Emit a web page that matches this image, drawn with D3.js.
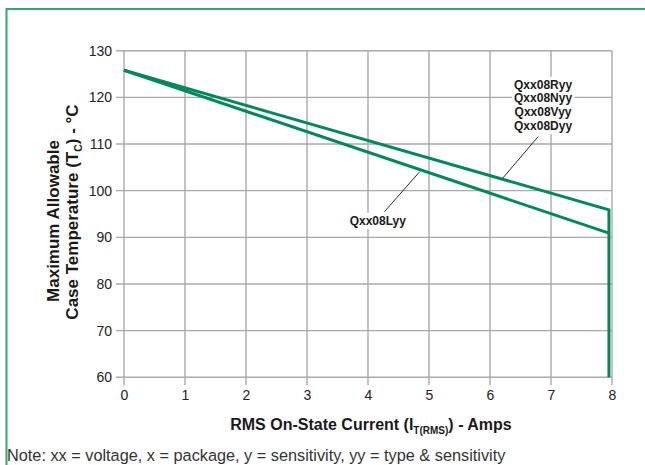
<!DOCTYPE html>
<html><head><meta charset="utf-8">
<script src="https://cdn.jsdelivr.net/npm/d3@7"></script>
<style>
html,body{margin:0;padding:0;background:#fff;}
svg{display:block;font-family:"Liberation Sans",Arial,Helvetica,sans-serif;}
</style></head>
<body><svg id="c" width="645" height="465"></svg>
<script>
// ---- data ----
const xTicks = [0,1,2,3,4,5,6,7,8];
const yTicks = [60,70,80,90,100,110,120,130];
const upperCurrent = [0, 7.95, 7.95];
const upperTemp = [125.8, 95.9, 60];
const lowerCurrent = [0, 7.95];
const lowerTemp = [125.8, 90.9];
const upperLabels = ["Qxx08Ryy","Qxx08Nyy","Qxx08Vyy","Qxx08Dyy"];
const lowerLabels = ["Qxx08Lyy"];
const upperLeader = [[6.79,111.6],[6.21,102.7]];
const lowerLeader = [[4.85,104.1],[4.27,95.5]];
const upperLabelPos = [6.87,122.8];
const lowerLabelPos = [4.16,93.6];
const noteText = "Note: xx = voltage, x = package, y = sensitivity, yy = type & sensitivity";

const svg = d3.select("#c");
const x = d3.scaleLinear().domain([0,8]).range([124,612]);
const y = d3.scaleLinear().domain([60,130]).range([377.3,50.7]);
const grid = "#a9a9a9", green = "#00875a", border = "#34a672";
const narrow = "'Liberation Sans Narrow','Arial Narrow','Liberation Sans',Arial,sans-serif";

// frame border (top & left)
svg.append("path").attr("d","M6.5,465 L6.5,9 L645,9").attr("fill","none")
  .attr("stroke",border).attr("stroke-width",2);

// grid
const g = svg.append("g");
g.selectAll(".vg").data(xTicks).join("line")
  .attr("x1",d=>x(d)).attr("x2",d=>x(d)).attr("y1",y(130)).attr("y2",y(60)+8)
  .attr("stroke",grid).attr("stroke-width",1.4);
g.selectAll(".hg").data(yTicks).join("line")
  .attr("x1",x(0)-8).attr("x2",x(8)).attr("y1",d=>y(d)).attr("y2",d=>y(d))
  .attr("stroke",grid).attr("stroke-width",1.4);

// axes labels via d3 axes (lines hidden)
const xa = svg.append("g").attr("transform",`translate(0,${y(60)})`)
  .call(d3.axisBottom(x).tickValues(xTicks).tickSize(0).tickPadding(13));
const ya = svg.append("g").attr("transform",`translate(${x(0)},0)`)
  .call(d3.axisLeft(y).tickValues(yTicks).tickSize(0).tickPadding(12));
[xa,ya].forEach(a=>{a.select(".domain").remove();
  a.selectAll("text").attr("font-size",14).attr("fill","#222")
   .attr("font-family",narrow);});

// leaders
const lineGen = d3.line().x(d=>x(d[0])).y(d=>y(d[1]));
[upperLeader,lowerLeader].forEach(l=>svg.append("path").attr("d",lineGen(l))
  .attr("fill","none").attr("stroke","#111").attr("stroke-width",0.9));

// curves
const upperPts = upperCurrent.map((c,i)=>[c,upperTemp[i]]);
const lowerPts = lowerCurrent.map((c,i)=>[c,lowerTemp[i]]);
[upperPts,lowerPts].forEach(p=>svg.append("path").attr("d",lineGen(p))
  .attr("fill","none").attr("stroke",green).attr("stroke-width",3)
  .attr("stroke-linejoin","miter"));

// curve labels with white background
function label(lines,pos){
  const gg = svg.append("g");
  const bg = gg.append("rect").attr("fill","#fff");
  lines.forEach((s,i)=>gg.append("text").attr("text-anchor","middle")
    .attr("font-weight","bold").attr("font-size",12).attr("font-family",narrow)
    .attr("fill","#1a1a1a").attr("x",x(pos[0])).attr("y",y(pos[1])+4.3+i*13.9).text(s));
  const b = gg.node().getBBox();
  bg.attr("x",b.x-2).attr("y",b.y-1).attr("width",b.width+4).attr("height",b.height+2);
}
label(upperLabels,upperLabelPos);
label(lowerLabels,lowerLabelPos);

// x axis title
const xt = svg.append("text").attr("x",371).attr("y",430).attr("text-anchor","middle")
  .attr("font-weight","bold").attr("font-size",16).attr("fill","#1a1a1a");
xt.append("tspan").text("RMS On-State Current (I");
xt.append("tspan").attr("font-size",10).attr("dy",4).text("T(RMS)");
xt.append("tspan").attr("dy",-4).text(") - Amps");

// y axis title
svg.append("text").attr("transform","translate(59,221) rotate(-90)")
  .attr("text-anchor","middle").attr("font-weight","bold").attr("font-size",17)
  .attr("fill","#1a1a1a").text("Maximum Allowable");
const yt2 = svg.append("text").attr("transform","translate(78,212) rotate(-90)")
  .attr("text-anchor","middle").attr("font-weight","bold").attr("font-size",17)
  .attr("fill","#1a1a1a");
yt2.append("tspan").text("Case Temperature (T");
yt2.append("tspan").attr("font-size",10.5).attr("dy",4).text("C");
yt2.append("tspan").attr("dy",-4).text(") - °C");

// note
svg.append("text").attr("x",7).attr("y",461).attr("font-size",16.3)
  .attr("fill","#333").text(noteText);
</script></body></html>
